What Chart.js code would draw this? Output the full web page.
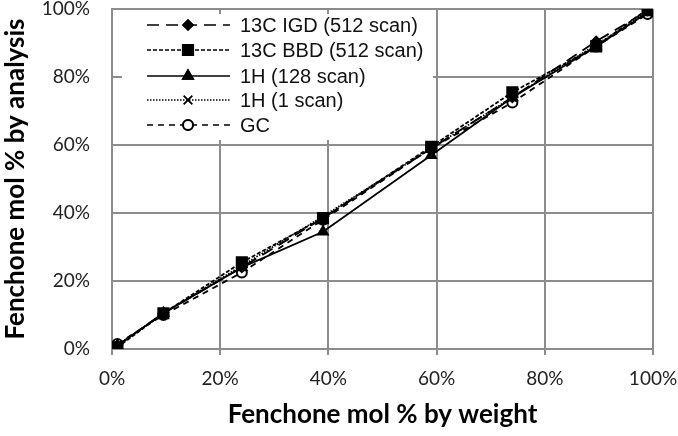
<!DOCTYPE html>
<html>
<head>
<meta charset="utf-8">
<script src="https://cdn.jsdelivr.net/npm/chart.js@4"></script>
<style>
  html, body { margin: 0; padding: 0; background: #fff; }
  #wrap { width: 678px; height: 436px; position: relative; }
</style>
</head>
<body>
<div id="wrap"><canvas id="chart" width="678" height="436"></canvas></div>
<script>
// Fenchone mol % by weight (x) vs by analysis (y)
const xWeight = [1, 9.5, 24, 39, 59, 74, 89.5, 99];
const igd   = [1, 10.5, 24, 38.5, 59, 74, 90.5, 99.5];
const bbd   = [0.5, 10.5, 25.5, 38.5, 59.5, 75.5, 89, 100];
const h128  = [1, 10.5, 24, 34.5, 57, 74, 89, 99];
const h1    = [1, 10.5, 24.5, 39, 59, 74, 89.5, 99];
const gc    = [1.5, 10, 22.5, 38, 59, 72.5, 89, 98.5];
const seriesNames = ['13C IGD (512 scan)', '13C BBD (512 scan)', '1H (128 scan)', '1H (1 scan)', 'GC'];
const axisTicks = [0, 20, 40, 60, 80, 100];

const GRID = '#8c8c8c';

function pts(ys) {
    return xWeight.map((x, i) => ({ x: x, y: ys[i] }));
}

const styles = [
    { dash: [12, 7], pointStyle: 'rectRot', radius: 5, fill: '#000' },
    { dash: [4, 2], pointStyle: 'rect', radius: 7.5, fill: '#000' },
    { dash: [], pointStyle: 'triangle', radius: 6, fill: '#000' },
    { dash: [1.5, 1.5], pointStyle: 'crossRot', radius: 6, fill: '#000' },
    { dash: [6, 5], pointStyle: 'circle', radius: 5, fill: '#fff' }
];

const datasets = [igd, bbd, h128, h1, gc].map((ys, i) => ({
    label: seriesNames[i],
    data: pts(ys),
    showLine: true,
    borderColor: '#000',
    borderWidth: 1.8,
    borderDash: styles[i].dash,
    pointStyle: styles[i].pointStyle,
    pointRadius: styles[i].radius,
    pointBackgroundColor: styles[i].fill,
    pointBorderColor: '#000',
    pointBorderWidth: i === 4 ? 2 : 1.5,
    tension: 0
}));

// legend drawn inside the plot, top-left, on a white box
const insideLegend = {
    id: 'insideLegend',
    afterDraw(chart) {
        const ctx = chart.ctx;
        ctx.save();
        ctx.fillStyle = '#fff';
        ctx.fillRect(122, 14, 311, 126);
        const rowY = [25, 50, 76, 100, 125];
        chart.data.datasets.forEach((ds, i) => {
            const y = rowY[i];
            ctx.strokeStyle = '#000';
            ctx.lineWidth = 1.5;
            ctx.setLineDash(ds.borderDash);
            ctx.beginPath();
            ctx.moveTo(147, y);
            ctx.lineTo(230, y);
            ctx.stroke();
            ctx.setLineDash([]);
            Chart.helpers.drawPoint(ctx, {
                pointStyle: ds.pointStyle,
                radius: ds.pointRadius,
                borderWidth: ds.pointBorderWidth,
                rotation: 0
            }, 188, y);
            ctx.fillStyle = ds.pointBackgroundColor;
            ctx.fill();
            ctx.strokeStyle = '#000';
            ctx.lineWidth = ds.pointBorderWidth;
            ctx.stroke();
            ctx.fillStyle = '#111';
            ctx.font = '20px "Liberation Sans", Arial, sans-serif';
            ctx.textAlign = 'left';
            ctx.textBaseline = 'middle';
            ctx.fillText(ds.label, 240, y + 1);
        });
        ctx.restore();
    }
};

new Chart(document.getElementById('chart'), {
    type: 'scatter',
    data: { datasets: datasets },
    options: {
        responsive: false,
        animation: false,
        layout: { autoPadding: false, padding: { top: 9, right: 25, left: 0, bottom: 0 } },
        plugins: {
            legend: { display: false },
            tooltip: { enabled: false }
        },
        scales: {
            x: {
                type: 'linear',
                min: 0,
                max: 100,
                afterBuildTicks: s => { s.ticks = axisTicks.map(v => ({ value: v })); },
                afterFit: s => { s.height = 87; s.paddingLeft = 0; s.paddingRight = 0; },
                grid: { color: GRID, lineWidth: 2, tickLength: 6, drawTicks: true },
                border: { color: GRID, width: 2 },
                ticks: {
                    color: '#222',
                    font: { family: 'Lato', size: 19 },
                    padding: 12,
                    callback: v => v + '%'
                },
                title: {
                    display: true,
                    text: 'Fenchone mol % by weight',
                    color: '#000',
                    font: { family: 'Lato', size: 26, weight: 'bold' },
                    padding: { top: 0, bottom: 6 }
                }
            },
            y: {
                type: 'linear',
                min: 0,
                max: 100,
                afterBuildTicks: s => { s.ticks = axisTicks.map(v => ({ value: v })); },
                afterFit: s => { s.width = 112; s.paddingTop = 0; s.paddingBottom = 0; },
                grid: { color: GRID, lineWidth: 2, drawTicks: false },
                border: { color: GRID, width: 2 },
                ticks: {
                    color: '#222',
                    font: { family: 'Lato', size: 19 },
                    padding: 22,
                    callback: v => v + '%'
                },
                title: {
                    display: true,
                    text: 'Fenchone mol % by analysis',
                    color: '#000',
                    font: { family: 'Lato', size: 26, weight: 'bold' },
                    padding: { top: 0, bottom: 0 }
                }
            }
        }
    },
    plugins: [insideLegend]
});
</script>
</body>
</html>
